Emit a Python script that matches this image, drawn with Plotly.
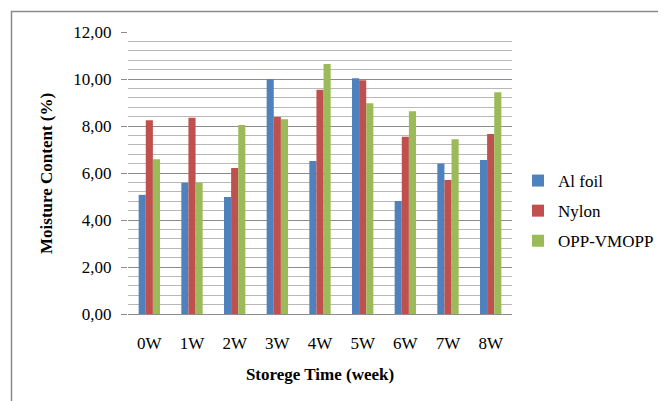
import plotly.graph_objects as go

categories = ["0W", "1W", "2W", "3W", "4W", "5W", "6W", "7W", "8W"]
al_foil = [5.07, 5.58, 4.98, 9.99, 6.51, 10.03, 4.81, 6.40, 6.55]
nylon = [8.25, 8.35, 6.21, 8.38, 9.54, 9.95, 7.54, 5.70, 7.66]
opp_vmopp = [6.59, 5.58, 8.04, 8.29, 10.64, 8.97, 8.63, 7.44, 9.44]

series_names = ["Al foil", "Nylon", "OPP-VMOPP"]
series_values = [al_foil, nylon, opp_vmopp]
colors = ["#4F81BD", "#C0504D", "#9BBB59"]

FONT = "Liberation Serif"

fig = go.Figure()
for name, vals, col in zip(series_names, series_values, colors):
    fig.add_trace(go.Bar(
        x=categories, y=vals, name=name, legendgroup=name,
        marker=dict(color=col, line=dict(width=0)),
    ))

# page body has an 8px margin: figure px = screen px - 8
OFF = 8
W, H = 666, 401
L, R, T, B = 128 - OFF, 512 - OFF, 32 - OFF, 314 - OFF
pw, ph = R - L, B - T

def sx(px):  # screen px -> paper x
    return (px - OFF - L) / pw

def sy(py):  # screen px -> paper y
    return (B - (py - OFF)) / ph

fig.update_layout(
    width=W, height=H,
    margin=dict(l=L, r=W - R, t=T, b=H - B, pad=0, autoexpand=False),
    paper_bgcolor="white", plot_bgcolor="white",
    separators=", ",
    bargap=0.5, bargroupgap=0,
    font=dict(family=FONT, color="black", size=17),
    showlegend=True,
    legend=dict(
        x=sx(518), xanchor="left",
        y=sy(163), yanchor="top",
        font=dict(family=FONT, size=17, color="black"),
        tracegroupgap=5, bgcolor="rgba(0,0,0,0)",
    ),
    xaxis=dict(
        type="category", showgrid=False, zeroline=False,
        showline=True, linecolor="#8c8c8c", linewidth=1,
        ticks="outside", ticklen=14, tickcolor="rgba(0,0,0,0)",
        tickfont=dict(family=FONT, size=17, color="black"),
        title=dict(text="<b>Storege Time (week)</b>",
                   font=dict(family=FONT, size=17, color="black"),
                   standoff=15),
        automargin=False,
    ),
    yaxis=dict(
        range=[0, 12], dtick=2, tick0=0, tickformat=".2f",
        showgrid=True, gridcolor="#8c8c8c", gridwidth=1,
        zeroline=False, showline=False,
        ticks="outside", ticklen=6, tickcolor="#8c8c8c",
        ticklabelstandoff=6,
        tickfont=dict(family=FONT, size=17, color="black"),
        minor=dict(dtick=0.4, tick0=0, showgrid=True, gridcolor="#b8b8b8", gridwidth=1, ticks=""),
        automargin=False,
    ),
    annotations=[dict(
        text="<b>Moisture Content (%)</b>", textangle=-90,
        xref="paper", yref="paper", x=sx(46), y=sy(174),
        xanchor="center", yanchor="middle", showarrow=False,
        font=dict(family=FONT, size=17, color="black"),
    )],
    shapes=[dict(
        type="rect", xref="paper", yref="paper",
        x0=sx(11.5), x1=sx(720),
        y0=sy(440), y1=sy(11.5),
        line=dict(color="#8a8a8a", width=1.5), fillcolor="rgba(0,0,0,0)",
        layer="below",
    )],
)

fig.write_html("out.html")
